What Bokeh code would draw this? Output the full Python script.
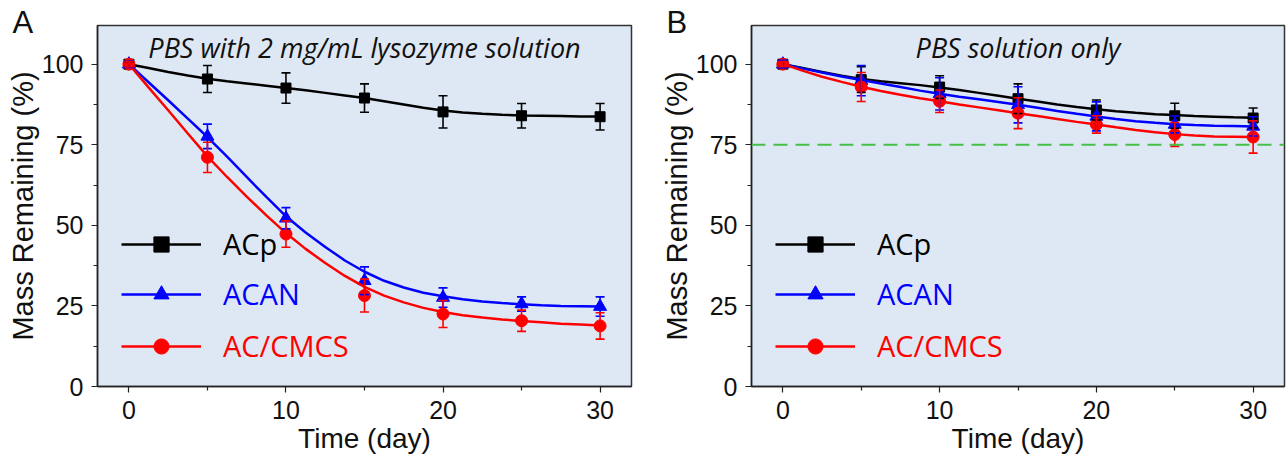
from bokeh.plotting import figure
from bokeh.models import (ColumnDataSource, Whisker, TeeHead, FixedTicker, Span,
                          Label, Legend, LegendItem, Range1d, Title)
from bokeh.layouts import row
from bokeh.embed import file_html
from bokeh.resources import INLINE

# ---------------- data ----------------
days = [0, 5, 10, 15, 20, 25, 30]
fit_days = [0, 1.25, 2.5, 3.75, 5, 6.25, 7.5, 8.75, 10, 11.25, 12.5, 13.75, 15,
            16.25, 17.5, 18.75, 20, 21.25, 22.5, 23.75, 25, 26.25, 27.5, 28.75, 30]
series_names = ["ACp", "ACAN", "AC/CMCS"]

# Panel A: PBS with 2 mg/mL lysozyme
a_acp = [100, 95.4, 92.6, 89.5, 85.2, 84.0, 83.7]
a_acp_err = [0.8, 4.2, 4.7, 4.4, 5.0, 3.8, 4.1]
a_acan = [100, 77.6, 52.2, 32.8, 27.6, 25.6, 24.8]
a_acan_err = [1.0, 3.8, 3.3, 4.3, 3.0, 2.2, 3.0]
a_cmcs = [100, 71.1, 47.3, 28.2, 22.5, 20.4, 18.8]
a_cmcs_err = [0.8, 4.7, 4.1, 5.1, 4.2, 3.3, 4.1]
a_acp_fit = [100, 98.8, 97.6, 96.5, 95.5, 94.7, 94.0, 93.3, 92.6, 91.9, 91.1, 90.3, 89.5,
             88.5, 87.5, 86.5, 85.6, 85.0, 84.6, 84.3, 84.1, 84.0, 83.9, 83.8, 83.8]
a_acan_fit = [100, 94.4, 88.8, 83.1, 77.4, 71.3, 65.0, 58.8, 52.8, 47.8, 43.3, 39.1, 35.6,
              32.8, 30.7, 29.1, 28.0, 27.1, 26.4, 25.9, 25.5, 25.2, 25.0, 24.9, 24.8]
a_cmcs_fit = [100, 92.8, 85.7, 78.5, 71.4, 65.0, 58.9, 53.1, 47.6, 42.7, 38.3, 34.3, 30.9,
              28.2, 26.1, 24.4, 23.1, 22.1, 21.4, 20.8, 20.3, 19.9, 19.5, 19.2, 18.9]

# Panel B: PBS only
b_acp = [100, 95.2, 92.9, 89.3, 85.8, 84.0, 83.3]
b_acp_err = [1.0, 4.0, 3.5, 4.6, 3.1, 3.9, 3.1]
b_acan = [100, 94.9, 90.8, 87.4, 83.8, 81.3, 80.7]
b_acan_err = [1.2, 4.7, 5.0, 5.6, 4.5, 2.6, 3.0]
b_cmcs = [100, 92.9, 88.5, 84.8, 81.3, 78.2, 77.4]
b_cmcs_err = [0.8, 4.5, 3.5, 4.8, 2.7, 3.7, 5.0]
b_acp_fit = [100, 98.8, 97.6, 96.4, 95.4, 94.7, 94.1, 93.5, 92.8, 92.0, 91.1, 90.2, 89.3,
             88.4, 87.5, 86.7, 86.0, 85.4, 84.9, 84.5, 84.2, 83.9, 83.7, 83.5, 83.4]
b_acan_fit = [100, 98.7, 97.4, 96.2, 95.1, 94.0, 92.9, 91.8, 90.8, 89.9, 89.1, 88.3, 87.4,
              86.5, 85.5, 84.6, 83.8, 83.0, 82.3, 81.8, 81.4, 81.1, 80.9, 80.8, 80.7]
b_cmcs_fit = [100, 98.0, 96.1, 94.5, 93.0, 91.7, 90.5, 89.4, 88.5, 87.5, 86.6, 85.7, 84.8,
              83.9, 83.0, 82.1, 81.3, 80.4, 79.6, 78.9, 78.3, 77.9, 77.6, 77.5, 77.4]

y_ticks = [0, 25, 50, 75, 100]
y_minor = [12.5, 37.5, 62.5, 87.5]
x_ticks = [0, 10, 20, 30]
x_minor = [5, 15, 25]
threshold = 75

# ---------------- styling ----------------
COLORS = ["#000000", "#0000ff", "#ff0000"]
MARKERS = ["square", "triangle", "circle"]
MSIZES = [10, 13, 12]
BG = "#dee8f4"
TICK_FONT = "Liberation Sans"
LEG_FONT = "Open Sans"


def make_panel(letter, subtitle, vals, errs, fits, left_b, right_b, width,
               frame_w, show_thr):
    p = figure(width=width, height=464, output_backend="svg", toolbar_location=None,
               x_range=Range1d(-2, 32), y_range=Range1d(0, 112),
               frame_width=frame_w, frame_height=361,
               min_border_left=left_b, min_border_right=right_b,
               min_border_top=25, min_border_bottom=78)
    p.background_fill_color = BG
    p.border_fill_color = "white"
    p.outline_line_color = "#333333"
    p.outline_line_width = 1.5
    p.grid.visible = False

    for ax in (p.xaxis[0], p.yaxis[0]):
        ax.axis_line_width = 1.5
        ax.axis_line_color = "#222222"
        ax.major_tick_line_color = "#222222"
        ax.minor_tick_line_color = "#222222"
        ax.major_tick_line_width = 1.2
        ax.minor_tick_line_width = 1.2
        ax.major_tick_in = 0
        ax.major_tick_out = 6
        ax.minor_tick_in = 0
        ax.minor_tick_out = 4
        ax.major_label_text_font = TICK_FONT
        ax.major_label_text_font_size = "25px"
        ax.major_label_text_color = "#111111"
        ax.axis_label_text_font = TICK_FONT
        ax.axis_label_text_font_style = "normal"
        ax.axis_label_text_color = "#111111"
        ax.major_label_standoff = 8
        ax.axis_label_standoff = 0

    p.xaxis[0].ticker = FixedTicker(ticks=x_ticks, minor_ticks=x_minor)
    p.yaxis[0].ticker = FixedTicker(ticks=y_ticks, minor_ticks=y_minor)
    p.xaxis[0].axis_label = "Time (day)"
    p.yaxis[0].axis_label = "Mass Remaining (%)"
    p.xaxis[0].axis_label_text_font_size = "28px"
    p.yaxis[0].axis_label_text_font_size = "29px"
    p.xaxis[0].axis_label_standoff = 1

    if show_thr:
        p.add_layout(Span(location=threshold, dimension="width", line_color="#46c046",
                          line_width=2, line_dash="14 8"))

    renderers = []
    for i in range(3):
        c = COLORS[i]
        lr = p.line(fit_days, fits[i], line_color=c, line_width=2.5)
        up = [v + e for v, e in zip(vals[i], errs[i])]
        lo = [v - e for v, e in zip(vals[i], errs[i])]
        src = ColumnDataSource(dict(x=days, y=vals[i], upper=up, lower=lo))
        w = Whisker(base="x", upper="upper", lower="lower", source=src,
                    line_color=c, line_width=1.6, level="glyph",
                    upper_head=TeeHead(size=9, line_color=c, line_width=1.6),
                    lower_head=TeeHead(size=9, line_color=c, line_width=1.6))
        p.add_layout(w)
        sr = p.scatter("x", "y", source=src, marker=MARKERS[i], size=MSIZES[i],
                       fill_color=c, line_color=c)
        renderers.append([lr, sr])

    # one legend per series so each label gets its own colour
    bottoms = [123, 73, 21]
    for i in range(3):
        leg = Legend(items=[LegendItem(label=series_names[i], renderers=renderers[i])],
                     location=(24, bottoms[i]), orientation="vertical",
                     glyph_width=80, glyph_height=38, label_height=38,
                     label_standoff=22, padding=0, margin=0, spacing=0,
                     border_line_color=None, background_fill_alpha=0,
                     label_text_font=LEG_FONT, label_text_font_size="29px",
                     label_text_color=COLORS[i])
        p.add_layout(leg)

    p.add_layout(Label(x=15, y=105.3, text=subtitle, text_align="center",
                       text_baseline="middle", text_font=LEG_FONT,
                       text_font_style="italic", text_font_size="27px",
                       text_color="#111111"))
    p.title = Title(text=letter, align="left", offset=-85, standoff=-28,
                    text_font=TICK_FONT, text_font_size="31px",
                    text_font_style="normal", text_color="#111111")
    return p


pa = make_panel("A", "PBS with 2 mg/mL lysozyme solution",
                [a_acp, a_acan, a_cmcs], [a_acp_err, a_acan_err, a_cmcs_err],
                [a_acp_fit, a_acan_fit, a_cmcs_fit], 97, 9, 640, 534, False)
pb = make_panel("B", "PBS solution only",
                [b_acp, b_acan, b_cmcs], [b_acp_err, b_acan_err, b_cmcs_err],
                [b_acp_fit, b_acan_fit, b_cmcs_fit], 111, 3, 647, 533, True)

layout = row(pa, pb)
open("out.html", "w").write(file_html(layout, INLINE))
